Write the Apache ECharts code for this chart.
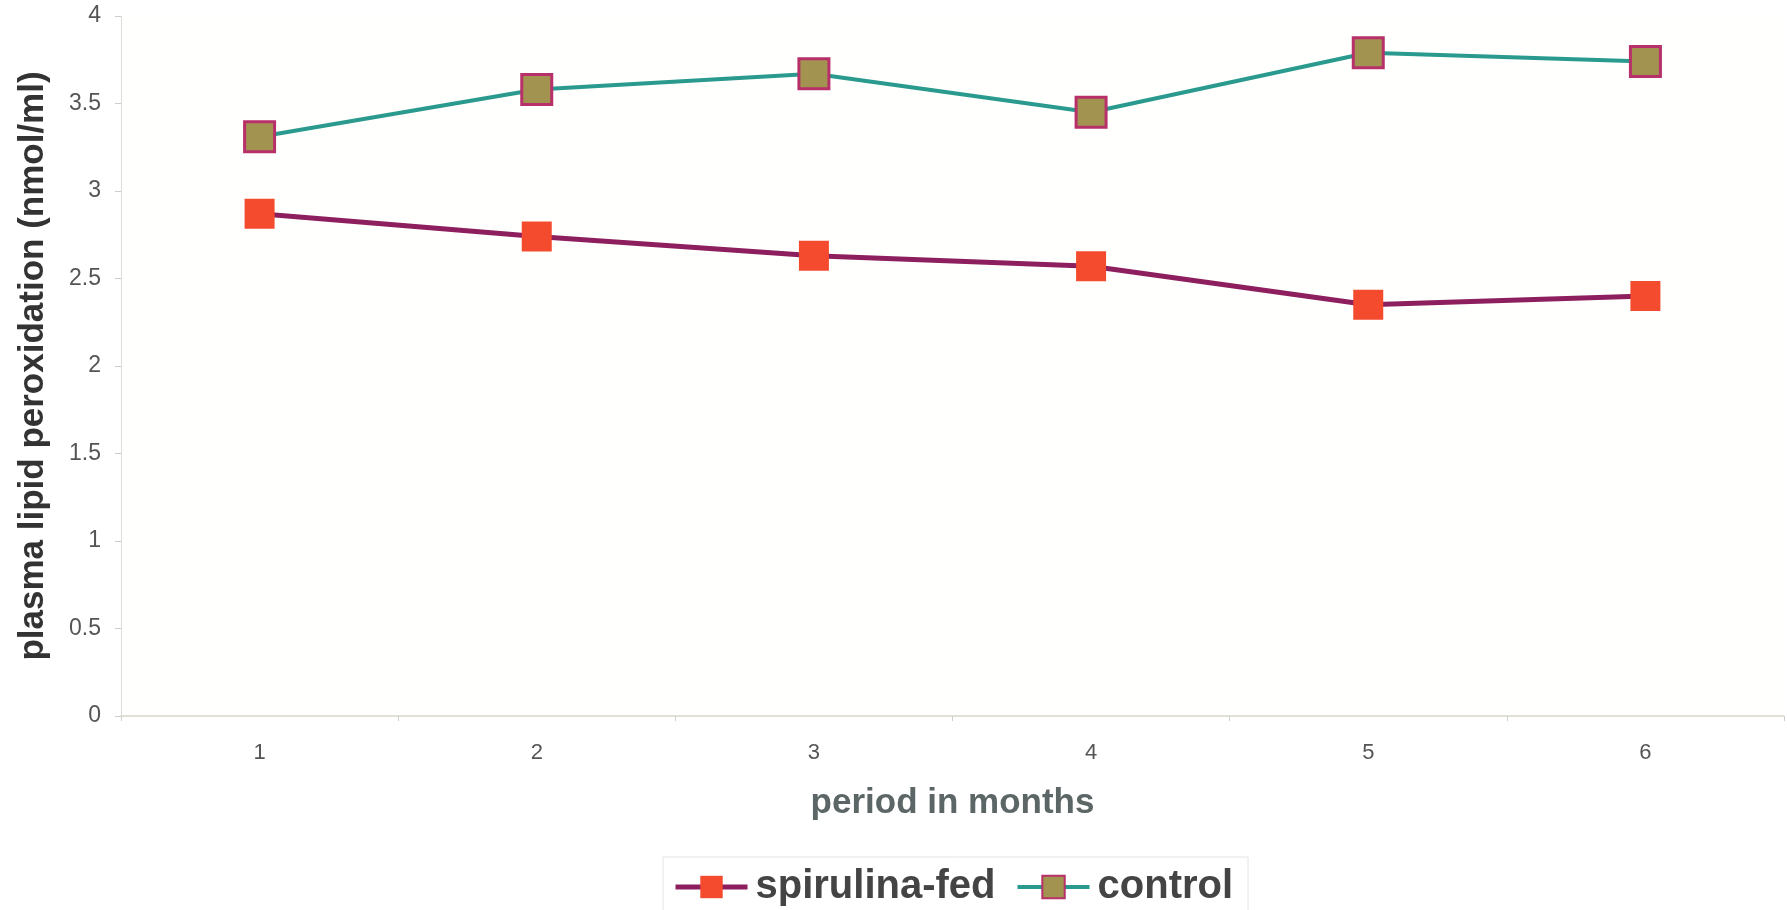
<!DOCTYPE html>
<html>
<head>
<meta charset="utf-8">
<script src="https://cdn.jsdelivr.net/npm/echarts@6/dist/echarts.min.js"></script>
<style>
  html, body { margin: 0; padding: 0; background: #ffffff; }
  #chart { width: 1787px; height: 910px; }
</style>
</head>
<body>
<div id="chart"></div>
<script>
// Months of observation
const months = ['1', '2', '3', '4', '5', '6'];
// Plasma lipid peroxidation (nmol/ml)
const spirulinaFed = [2.87, 2.74, 2.63, 2.57, 2.35, 2.40];
const control = [3.31, 3.58, 3.67, 3.45, 3.79, 3.74];
// Value axis ticks
const yTicks = [0, 0.5, 1, 1.5, 2, 2.5, 3, 3.5, 4];

const FONT = 'Liberation Sans, Arial, sans-serif';
const SPIRULINA_LINE = '#8e1f5e';
const CONTROL_LINE = '#2a9a8e';

const chart = echarts.init(document.getElementById('chart'));
chart.setOption({
  animation: false,
  backgroundColor: '#ffffff',
  grid: {
    left: 121, right: 3, top: 16, bottom: 194,
    show: true, backgroundColor: '#fffffd', borderWidth: 0
  },
  legend: {
    top: 857,
    left: 663,
    itemWidth: 72,
    itemHeight: 28,
    itemGap: 20,
    padding: [10, 15, 4, 10],
    borderColor: '#e4e4e4',
    borderWidth: 1,
    textStyle: { fontFamily: FONT, fontSize: 40, fontWeight: 'bold', color: '#444444', padding: [0, 0, 0, 3] },
    data: [
      { name: 'spirulina-fed', lineStyle: { color: SPIRULINA_LINE, width: 5 } },
      { name: 'control', lineStyle: { color: CONTROL_LINE, width: 4 } }
    ]
  },
  xAxis: {
    type: 'category',
    data: months,
    boundaryGap: true,
    name: 'period in months',
    nameLocation: 'middle',
    nameGap: 70,
    nameTextStyle: { fontFamily: FONT, fontSize: 35, fontWeight: 'bold', color: '#5c6666' },
    axisLine: { lineStyle: { color: '#d9d6c4', width: 1.5 } },
    axisTick: { show: true, length: 5, lineStyle: { color: '#cfcfcf' } },
    axisLabel: { margin: 26, fontFamily: FONT, fontSize: 22, color: '#555555' },
    splitLine: { show: false }
  },
  yAxis: {
    type: 'value',
    min: yTicks[0],
    max: yTicks[yTicks.length - 1],
    interval: yTicks[1] - yTicks[0],
    name: 'plasma lipid peroxidation (nmol/ml)',
    nameLocation: 'middle',
    nameGap: 70,
    nameTextStyle: { fontFamily: FONT, fontSize: 35, fontWeight: 'bold', color: '#333333' },
    axisLine: { show: true, lineStyle: { color: '#dddddd', width: 1 } },
    axisTick: { show: true, length: 6, lineStyle: { color: '#cccccc' } },
    axisLabel: { margin: 20, fontFamily: FONT, fontSize: 23, color: '#555555' },
    splitLine: { show: false }
  },
  series: [
    {
      name: 'spirulina-fed',
      type: 'line',
      data: spirulinaFed,
      symbol: 'rect',
      symbolSize: 30,
      lineStyle: { color: SPIRULINA_LINE, width: 5 },
      itemStyle: { color: '#f44a2e', borderColor: '#f44a2e', borderWidth: 0 }
    },
    {
      name: 'control',
      type: 'line',
      data: control,
      symbol: 'rect',
      symbolSize: 30,
      lineStyle: { color: CONTROL_LINE, width: 4 },
      itemStyle: { color: '#a39350', borderColor: '#b8306a', borderWidth: 3 }
    }
  ]
});
</script>
</body>
</html>
